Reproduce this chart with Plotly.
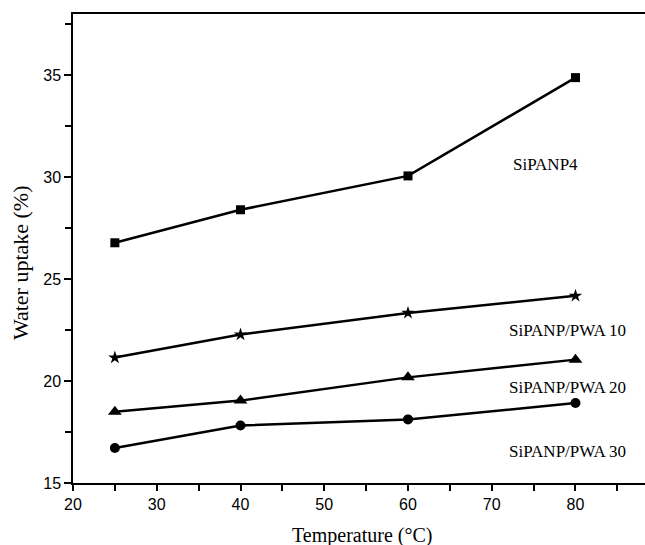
import plotly.graph_objects as go

temperature = [25, 40, 60, 80]
sipanp4 = [26.78, 28.40, 30.06, 34.88]
pwa10 = [21.15, 22.28, 23.34, 24.18]
pwa20 = [18.50, 19.04, 20.18, 21.05]
pwa30 = [16.72, 17.82, 18.12, 18.92]

series = [
    ("SiPANP4", sipanp4, "square", 9),
    ("SiPANP/PWA 10", pwa10, "star", 10),
    ("SiPANP/PWA 20", pwa20, "triangle-up", 12),
    ("SiPANP/PWA 30", pwa30, "circle", 10),
]

label_pos = {
    "SiPANP4": (76.4, 30.6),
    "SiPANP/PWA 10": (79.0, 22.5),
    "SiPANP/PWA 20": (79.0, 19.7),
    "SiPANP/PWA 30": (79.0, 16.55),
}

fig = go.Figure()
for name, vals, sym, sz in series:
    fig.add_trace(go.Scatter(
        x=temperature, y=vals, mode="lines+markers", name=name,
        line=dict(color="black", width=2.5),
        marker=dict(symbol=sym, size=sz, color="black"),
        showlegend=False,
    ))
    lx, ly = label_pos[name]
    fig.add_annotation(x=lx, y=ly, xref="x", yref="y", text=name, showarrow=False,
                       font=dict(family="Liberation Serif", size=17, color="black"))

# axis titles
fig.add_annotation(x=0.505, y=-0.111, xref="paper", yref="paper", text="Temperature (°C)",
                   showarrow=False, xanchor="center", yanchor="middle",
                   font=dict(family="Liberation Serif", size=20, color="black"))
fig.add_annotation(x=-0.0927, y=0.471, xref="paper", yref="paper", text="Water uptake (%)",
                   showarrow=False, xanchor="center", yanchor="middle", textangle=-90,
                   font=dict(family="Liberation Serif", size=22, color="black"))

fig.update_layout(
    width=645, height=545,
    margin=dict(l=73, r=0, t=14, b=62),
    plot_bgcolor="white", paper_bgcolor="white",
)
fig.update_xaxes(
    range=[20, 88.3], tickvals=[20, 30, 40, 50, 60, 70, 80],
    ticks="outside", ticklen=6, tickwidth=1.5, tickcolor="black",
    minor=dict(dtick=5, ticks="outside", ticklen=6, tickwidth=1.5, tickcolor="black", tick0=20),
    showline=True, linecolor="black", linewidth=1.5, mirror=True,
    showgrid=False, zeroline=False,
    tickfont=dict(family="Liberation Sans", size=16, color="black"),
)
fig.update_yaxes(
    range=[15, 38], tickvals=[15, 20, 25, 30, 35],
    ticks="outside", ticklen=7, tickwidth=1.5, tickcolor="black",
    minor=dict(dtick=2.5, ticks="outside", ticklen=6, tickwidth=1.5, tickcolor="black", tick0=15),
    showline=True, linecolor="black", linewidth=1.5,
    showgrid=False, zeroline=False,
    tickfont=dict(family="Liberation Sans", size=16, color="black"),
)

fig.write_html("out.html")
